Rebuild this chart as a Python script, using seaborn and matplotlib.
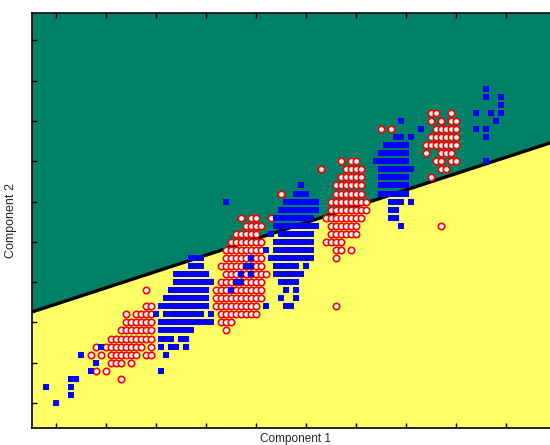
import matplotlib
matplotlib.use("Agg")
import matplotlib.pyplot as plt
import seaborn as sns
import pandas as pd

# class A (blue squares): grid row -> columns
blue_rows = {
    5: [10],
    6: [13],
    7: [8, 13],
    8: [13, 14],
    9: [17, 31],
    10: [18],
    11: [15, 32],
    12: [19, 31, 33, 34, 36],
    13: [31, 32, 33, 35, 36],
    14: [31, 32, 33, 34, 35, 36, 37],
    15: [31, 32, 33, 34, 35, 36, 37, 38, 39, 40, 41],
    16: [30, 32, 33, 34, 35, 36, 37, 38, 39, 41],
    17: [31, 32, 33, 34, 35, 36, 37, 38, 39, 40, 52, 56, 57],
    18: [32, 33, 34, 35, 36, 37, 38, 39, 40, 55, 58],
    19: [33, 34, 35, 36, 37, 38, 39, 40, 45, 56, 58],
    20: [34, 35, 36, 37, 38, 39, 40, 41, 46, 47, 55, 56, 57, 58],
    21: [34, 35, 36, 37, 38, 39, 40, 47, 49, 54, 55, 56, 57, 58, 59],
    22: [37, 38, 39, 48, 49, 54, 55, 56, 57, 58, 60],
    23: [37, 38, 39, 49, 53, 54, 55, 56, 57, 58, 59, 60, 61],
    24: [52, 54, 55, 56, 57, 58, 59, 60, 61],
    25: [54, 55, 56, 57, 58, 59, 60, 61],
    26: [53, 55, 56, 57, 58, 59, 60, 61],
    27: [54, 55, 56, 57, 58, 59, 60, 61, 62, 79],
    28: [54, 55, 56, 57, 58, 59, 60, 61, 77, 78],
    29: [55, 56, 57, 58, 59, 60, 61, 62, 77, 78],
    30: [44, 56, 57, 58, 59, 60, 61, 62, 77, 78, 79, 81],
    31: [58, 59, 60, 75, 76, 77, 78, 79, 80],
    32: [59, 75, 76, 77, 78, 79, 80],
    33: [75, 76, 77, 78, 79, 80],
    34: [75, 76, 77, 78, 79, 80, 81],
    35: [74, 75, 76, 77, 78, 79, 80, 96],
    36: [75, 76, 77, 78, 79, 80],
    37: [76, 77, 78, 79, 80],
    38: [78, 79, 81, 96],
    39: [83, 94, 96],
    40: [79, 98],
    41: [94, 97, 99],
    42: [99],
    43: [96, 99],
    44: [96],
}

# class B (red open circles): grid row -> columns
red_rows = {
    8: [23],
    9: [18, 20],
    10: [21, 22, 23, 25],
    11: [17, 19, 21, 22, 23, 24, 25, 26, 28, 29],
    12: [18, 20, 21, 22, 23, 24, 25, 26, 27, 29],
    13: [21, 22, 23, 24, 25, 26, 27, 28, 29],
    14: [23, 24, 25, 26, 27, 28, 29, 44],
    15: [24, 25, 26, 27, 28, 29, 43, 44, 45],
    16: [24, 26, 27, 28, 29, 43, 44, 45, 46, 47, 48, 49, 50],
    17: [28, 29, 42, 43, 44, 45, 46, 47, 48, 49, 50, 66],
    18: [42, 43, 44, 45, 46, 47, 48, 49, 50, 51],
    19: [28, 42, 43, 44, 45, 46, 47, 48, 49, 50, 51],
    20: [43, 44, 45, 46, 47, 48, 49, 50, 51],
    21: [44, 45, 46, 47, 48, 49, 50, 51, 52],
    22: [43, 44, 45, 46, 47, 48, 49, 50, 51],
    23: [44, 45, 46, 47, 48, 49, 50, 51, 66],
    24: [44, 45, 46, 47, 48, 49, 50, 51, 66, 67, 69],
    25: [45, 46, 47, 48, 49, 50, 51, 64, 65, 66, 67],
    26: [46, 47, 48, 49, 50, 65, 66, 67, 68, 69, 70],
    27: [48, 49, 50, 51, 65, 66, 67, 68, 69, 70, 87],
    28: [47, 49, 50, 53, 64, 65, 66, 67, 68, 69, 70, 71],
    29: [65, 66, 67, 68, 69, 70, 71, 72],
    30: [65, 66, 67, 68, 69, 70, 71, 72],
    31: [55, 66, 67, 68, 69, 70, 71],
    32: [66, 67, 68, 69, 70, 71],
    33: [67, 68, 69, 70, 71, 85],
    34: [63, 68, 69, 70, 71, 87, 88],
    35: [67, 69, 70, 86, 87, 89, 90],
    36: [84, 87, 88, 89],
    37: [84, 85, 86, 87, 88, 89, 90],
    38: [85, 86, 87, 88, 89, 90],
    39: [75, 77, 86, 87, 88, 89, 90],
    40: [85, 87, 89, 90],
    41: [85, 86, 89],
}

# linear decision boundary (end points)
boundary_x = [5.2, 110.4]
boundary_y = [16.3, 37.6]

x_ticks = [10, 20, 30, 40, 50, 60, 70, 80, 90, 100, 110]
y_ticks = [5, 10, 15, 20, 25, 30, 35, 40, 45, 50]


def to_frame(rows):
    pts = [(x, y) for y, xs in rows.items() for x in xs]
    return pd.DataFrame(pts, columns=["c1", "c2"])


blue_df = to_frame(blue_rows)
red_df = to_frame(red_rows)

sns.set_style("ticks")
plt.rcParams["font.family"] = ["Liberation Sans", "DejaVu Sans"]

fig = plt.figure(figsize=(5.5, 4.45), dpi=100)
ax = fig.add_axes([32 / 550, 17 / 445, 526 / 550, 415 / 445])

xmin, xmax = 5.2, 110.4
ymin, ymax = 1.9, 53.4

# class regions
ax.fill_between(boundary_x, boundary_y, ymax, color="#008066", lw=0, zorder=0)
ax.fill_between(boundary_x, ymin, boundary_y, color="#ffff66", lw=0, zorder=0)
ax.plot(boundary_x, boundary_y, color="black", lw=2.4, zorder=1)

sns.scatterplot(data=red_df, x="c1", y="c2", ax=ax, marker="o", s=21,
                color="white", edgecolor="#ff0000", linewidth=1.2, zorder=2)
sns.scatterplot(data=blue_df, x="c1", y="c2", ax=ax, marker="s", s=25,
                color="#0000ff", linewidth=0, zorder=3)

ax.set_xlim(xmin, xmax)
ax.set_ylim(ymin, ymax)
ax.set_xticks(x_ticks)
ax.set_yticks(y_ticks)
ax.set_xticklabels([])
ax.set_yticklabels([])
ax.tick_params(direction="in", length=3.6, width=1, top=True, right=False,
               colors="black")
for side in ["left", "top", "bottom"]:
    ax.spines[side].set_color("black")
    ax.spines[side].set_linewidth(1.2)
ax.spines["right"].set_visible(False)

ax.set_xlabel("Component 1", fontsize=8.5, labelpad=0)
ax.set_ylabel("Component 2", fontsize=9, labelpad=7)

fig.savefig("out.png", dpi=100)
